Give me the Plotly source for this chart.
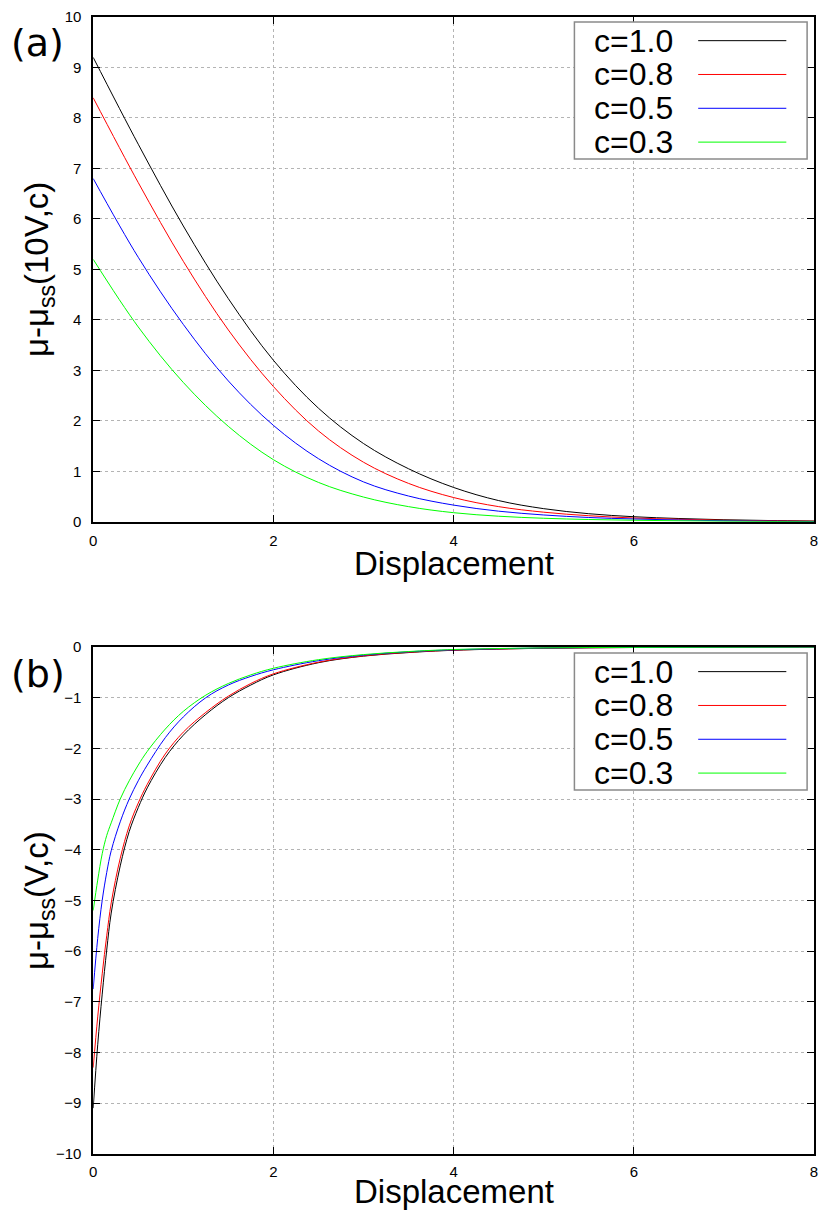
import plotly.graph_objects as go

# the page body keeps its 8px margin, so the figure is made 16px smaller than the
# window and every reference pixel position is shifted by that margin
PAGE_OFF = 8
W, H = 830 - 2 * PAGE_OFF, 1222 - 2 * PAGE_OFF

# ---- data ----
labels = ["c=1.0", "c=0.8", "c=0.5", "c=0.3"]
colors = ["#000000", "#ff0000", "#0000ff", "#00ff00"]

# panel (a): mu - mu_ss(10V, c)
x_a = [0, 0.5, 1, 1.5, 2, 2.5, 3, 3.5, 4, 4.5, 5, 5.5, 6, 6.5, 7, 7.5, 8]
y_a_c10 = [9.2, 7.48, 5.86, 4.42, 3.20, 2.25, 1.55, 1.05, 0.68, 0.42, 0.26, 0.16, 0.10, 0.065, 0.04, 0.025, 0.015]
y_a_c08 = [8.4, 6.72, 5.16, 3.80, 2.68, 1.80, 1.18, 0.76, 0.48, 0.30, 0.19, 0.12, 0.075, 0.05, 0.03, 0.02, 0.01]
y_a_c05 = [6.8, 5.24, 3.91, 2.79, 1.91, 1.25, 0.79, 0.51, 0.33, 0.21, 0.135, 0.085, 0.055, 0.035, 0.02, 0.012, 0.005]
y_a_c03 = [5.2, 3.86, 2.76, 1.89, 1.23, 0.78, 0.49, 0.30, 0.18, 0.11, 0.07, 0.045, 0.03, 0.02, 0.012, 0.006, 0.0]

# panel (b): mu - mu_ss(V, c)
x_b = [0, 0.05, 0.1, 0.15, 0.2, 0.3, 0.4, 0.5, 0.6, 0.8, 1.0, 1.25, 1.5, 1.75, 2, 2.5, 3, 3.5, 4, 5, 6, 7, 8]
y_b_c10 = [-9.1, -7.85, -6.85, -5.98, -5.25, -4.32, -3.64, -3.17, -2.78, -2.18, -1.74, -1.33, -1.0, -0.75,
           -0.55, -0.31, -0.18, -0.11, -0.065, -0.025, -0.01, -0.004, 0]
y_b_c08 = [-8.3, -7.3, -6.45, -5.7, -5.05, -4.17, -3.53, -3.08, -2.71, -2.11, -1.68, -1.29, -0.97, -0.72,
           -0.53, -0.3, -0.175, -0.105, -0.062, -0.024, -0.01, -0.004, 0]
y_b_c05 = [-6.75, -5.75, -5.0, -4.45, -4.02, -3.45, -3.0, -2.64, -2.33, -1.79, -1.38, -1.0, -0.75, -0.58,
           -0.45, -0.27, -0.16, -0.095, -0.056, -0.02, -0.008, -0.003, 0]
y_b_c03 = [-5.2, -4.6, -4.08, -3.72, -3.47, -3.0, -2.64, -2.33, -2.06, -1.62, -1.27, -0.95, -0.72, -0.55,
           -0.42, -0.25, -0.15, -0.09, -0.05, -0.018, -0.007, -0.003, 0]

panel_a = [y_a_c10, y_a_c08, y_a_c05, y_a_c03]
panel_b = [y_b_c10, y_b_c08, y_b_c05, y_b_c03]


def px(x):
    return (x - PAGE_OFF) / W


def py(y):
    return 1 - (y - PAGE_OFF) / H


# plot areas, in pixels of the reference picture
# (right edge pulled in a little so the "8" tick label stays inside the page)
LEFT, RIGHT = 90, 818
A_TOP, A_BOT = 8, 520
B_TOP, B_BOT = 647, 1161

fig = go.Figure()

for ys, name, col in zip(panel_a, labels, colors):
    fig.add_trace(go.Scatter(x=x_a, y=ys, name=name, mode="lines",
                             line=dict(color=col, width=1, shape="spline", smoothing=1.0),
                             xaxis="x", yaxis="y", showlegend=False))

for ys, name, col in zip(panel_b, labels, colors):
    fig.add_trace(go.Scatter(x=x_b, y=ys, name=name, mode="lines",
                             line=dict(color=col, width=1, shape="spline", smoothing=1.0),
                             xaxis="x2", yaxis="y2", showlegend=False))

axis_style = dict(
    showgrid=True, gridcolor="#b4b4b4", griddash="dot", gridwidth=1,
    showline=True, linecolor="black", linewidth=1.5, mirror="all",
    ticks="inside", ticklen=7, tickcolor="black", tickwidth=1,
    zeroline=False, ticklabeloverflow="allow",
    tickfont=dict(family="Liberation Sans", size=15, color="black"),
)

fig.update_layout(
    width=W, height=H,
    margin=dict(l=0, r=0, t=0, b=0),
    paper_bgcolor="white", plot_bgcolor="white",
    xaxis=dict(domain=[px(LEFT), px(RIGHT)], range=[0, 8], dtick=2, anchor="y",
               ticklabelstandoff=4, **axis_style),
    yaxis=dict(domain=[py(A_BOT), py(A_TOP)], range=[0, 10], dtick=1, anchor="x",
               ticklabelstandoff=7, **axis_style),
    xaxis2=dict(domain=[px(LEFT), px(RIGHT)], range=[0, 8], dtick=2, anchor="y2",
                ticklabelstandoff=4, **axis_style),
    yaxis2=dict(domain=[py(B_BOT), py(B_TOP)], range=[-10, 0], dtick=1, anchor="x2",
                ticklabelstandoff=7, **axis_style),
)

title_font = dict(family="Liberation Sans", size=33, color="black")

for top, bot, ytitle, tag, box_top, xt_gap in [
        (A_TOP, A_BOT, "μ-μ<sub>ss</sub>(10V,c)", "(a)", 13, 42),
        (B_TOP, B_BOT, "μ-μ<sub>ss</sub>(V,c)", "(b)", 653, 38)]:
    # x title
    fig.add_annotation(x=px((LEFT + RIGHT) / 2), y=py(bot + xt_gap), xref="paper", yref="paper",
                       text="Displacement", showarrow=False, font=title_font,
                       xanchor="center", yanchor="middle")
    # y title
    fig.add_annotation(x=px(36), y=py((top + bot) / 2), xref="paper", yref="paper",
                       text=ytitle, showarrow=False, font=title_font, textangle=-90,
                       xanchor="center", yanchor="middle")
    # panel tag
    fig.add_annotation(x=px(34), y=py(box_top + 21), xref="paper", yref="paper",
                       text=tag, showarrow=False,
                       font=dict(family="DejaVu Sans", size=38, color="black"),
                       xanchor="center", yanchor="middle")

    # legend box (text left, sample line right, like gnuplot)
    fig.add_shape(type="rect", xref="paper", yref="paper",
                  x0=px(576), x1=px(811), y0=py(box_top), y1=py(box_top + 139),
                  line=dict(color="#8a8a8a", width=1.5), fillcolor="white", layer="above")
    for i, (name, col) in enumerate(zip(labels, colors)):
        row = box_top + 19 + i * 34.3
        fig.add_annotation(x=px(594), y=py(row), xref="paper", yref="paper",
                           text=name, showarrow=False,
                           font=dict(family="Liberation Sans", size=32, color="black"),
                           xanchor="left", yanchor="middle")
        fig.add_shape(type="line", xref="paper", yref="paper",
                      x0=px(701), x1=px(790), y0=py(row), y1=py(row),
                      line=dict(color=col, width=1), layer="above")

fig.write_html("out.html", config={"displayModeBar": False})
